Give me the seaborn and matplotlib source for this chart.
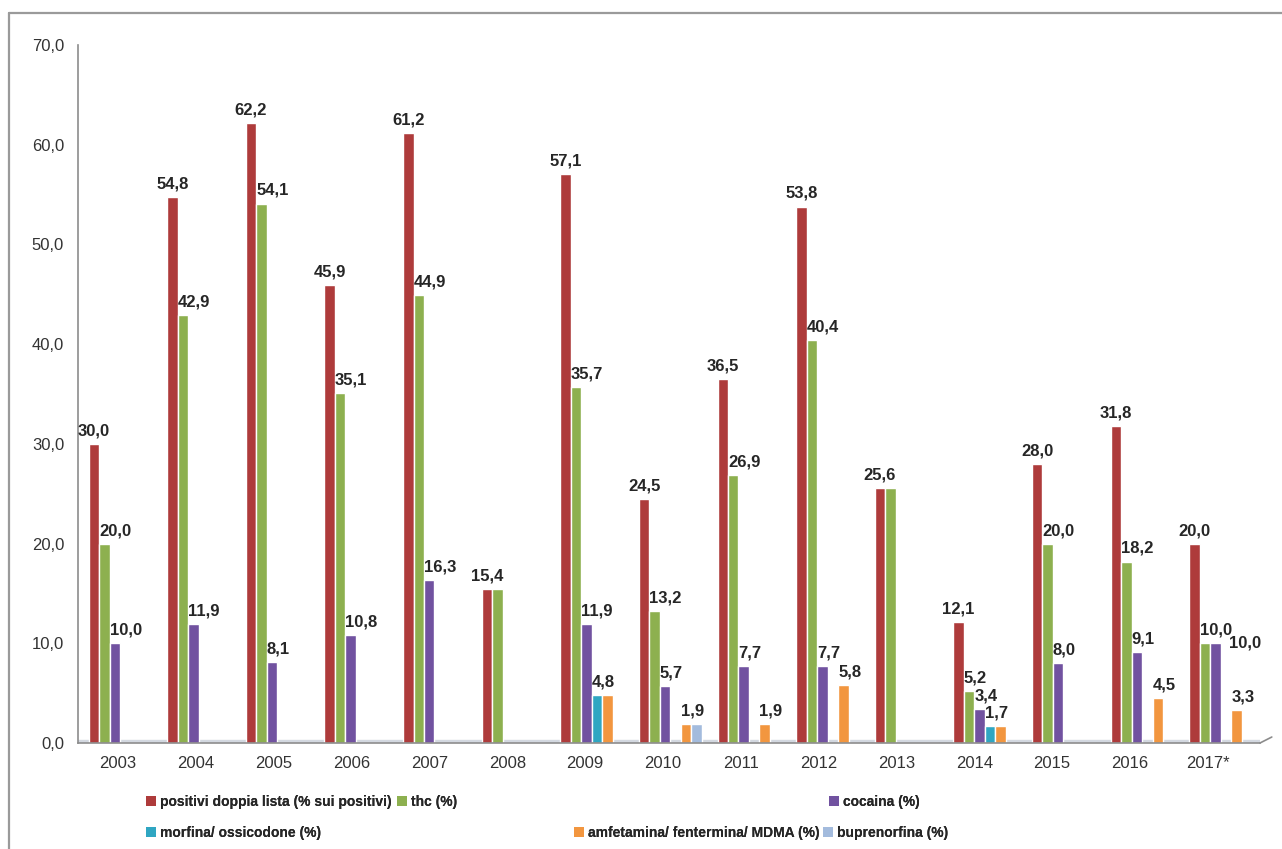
import pandas as pd
import matplotlib.pyplot as plt
import seaborn as sns
from matplotlib.patches import Patch
from matplotlib.lines import Line2D

# anni e serie
years = ['2003', '2004', '2005', '2006', '2007', '2008', '2009', '2010',
         '2011', '2012', '2013', '2014', '2015', '2016', '2017*']

series_names = ['positivi doppia lista (% sui positivi)', 'thc (%)', 'cocaina (%)',
                'morfina/ ossicodone (%)', 'amfetamina/ fentermina/ MDMA (%)',
                'buprenorfina (%)']

positivi = [30.0, 54.8, 62.2, 45.9, 61.2, 15.4, 57.1, 24.5, 36.5, 53.8, 25.6, 12.1, 28.0, 31.8, 20.0]
thc = [20.0, 42.9, 54.1, 35.1, 44.9, 15.4, 35.7, 13.2, 26.9, 40.4, 25.6, 5.2, 20.0, 18.2, 10.0]
cocaina = [10.0, 11.9, 8.1, 10.8, 16.3, 0.0, 11.9, 5.7, 7.7, 7.7, 0.0, 3.4, 8.0, 9.1, 10.0]
morfina = [0.0, 0.0, 0.0, 0.0, 0.0, 0.0, 4.8, 0.0, 0.0, 0.0, 0.0, 1.7, 0.0, 0.0, 0.0]
amfetamina = [0.0, 0.0, 0.0, 0.0, 0.0, 0.0, 4.8, 1.9, 1.9, 5.8, 0.0, 1.7, 0.0, 4.5, 3.3]
buprenorfina = [0.0, 0.0, 0.0, 0.0, 0.0, 0.0, 0.0, 1.9, 0.0, 0.0, 0.0, 0.0, 0.0, 0.0, 0.0]

colors = ['#AE3B3B', '#8DB04F', '#7152A0', '#2FA6C2', '#F2963F', '#A3BBDD']

# etichette non mostrate nel grafico originale (valori sovrapposti)
hidden_labels = [('2008', 1), ('2013', 1), ('2009', 4), ('2010', 5), ('2014', 4)]

rows = []
for name, vals in zip(series_names, [positivi, thc, cocaina, morfina, amfetamina, buprenorfina]):
    for y, v in zip(years, vals):
        rows.append({'anno': y, 'serie': name, 'valore': v})
df = pd.DataFrame(rows)

sns.set_style('white')
plt.rcParams['font.family'] = ['Liberation Sans', 'DejaVu Sans']

W, H = 1282, 849
fig = plt.figure(figsize=(W / 100, H / 100), dpi=100)
ax = fig.add_axes([78 / W, 1 - 743 / H, (1260 - 78) / W, (743 - 45) / H])

# pavimento grigio (effetto 3D di Excel)
ax.axhspan(0, 0.3, color='#d3d8e0', zorder=0)

sns.barplot(data=df, x='anno', y='valore', hue='serie', order=years,
            hue_order=series_names, palette=colors, width=0.8, gap=0,
            saturation=1, legend=False, ax=ax, zorder=2)

ax.set_xlim(-0.534, 14.5)
ax.set_ylim(0, 70)
ax.set_yticks(range(0, 71, 10))
ax.set_yticklabels([f'{v:.1f}'.replace('.', ',') for v in range(0, 71, 10)])
ax.set_xlabel('')
ax.set_ylabel('')

# nel grafico 3D le etichette dell'asse sono un po' piu' strette delle colonne
def axis_pos(i):
    return -0.025 + 0.99 * i

ax.set_xticks([axis_pos(i) for i in range(len(years))])
ax.set_xticklabels(years)
ax.set_xticks([axis_pos(i + 0.5) for i in range(-1, len(years))], minor=True)

for s in ['top', 'right']:
    ax.spines[s].set_visible(False)
for s in ['left', 'bottom']:
    ax.spines[s].set_color('#8c8c8c')
    ax.spines[s].set_linewidth(1.2)

# piccolo tratto obliquo a destra del pavimento
ax.plot([14.5, 14.65], [0, 0.6], color='#8c8c8c', lw=1.2, clip_on=False)

ax.tick_params(axis='x', which='major', length=0, labelsize=12, colors='#333333', pad=9)
ax.tick_params(axis='x', which='minor', length=4, color='#8c8c8c', direction='out')
ax.tick_params(axis='y', length=4, color='#8c8c8c', labelsize=12, labelcolor='#333333', pad=6)

# etichette dei valori
for si, cont in enumerate(ax.containers):
    for yi, bar in enumerate(cont):
        h = bar.get_height()
        if h <= 0 or (years[yi], si) in hidden_labels:
            continue
        txt = f'{h:.1f}'.replace('.', ',')
        x0 = bar.get_x()
        if si == 0:
            ax.annotate(txt, (x0 + bar.get_width() / 2, h), xytext=(0, 4),
                        textcoords='offset points', ha='center', va='bottom',
                        fontsize=12, fontweight='bold')
        elif years[yi] == '2017*' and si == 2:
            ax.annotate(txt, (x0 + bar.get_width(), h), xytext=(6, 0),
                        textcoords='offset points', ha='left', va='center',
                        fontsize=12, fontweight='bold')
        else:
            ax.annotate(txt, (x0, h), xytext=(0, 4),
                        textcoords='offset points', ha='left', va='bottom',
                        fontsize=12, fontweight='bold')

# legenda: una voce per posizione, come nell'originale
legend_pos = [(146, 802), (397, 802), (829, 802), (146, 833), (574, 833), (823, 833)]
for name, col, (px, py) in zip(series_names, colors, legend_pos):
    lg = fig.legend(handles=[Patch(facecolor=col, edgecolor='none')], labels=[name],
                    loc='center left', bbox_to_anchor=(px / W, 1 - py / H),
                    frameon=False, borderpad=0, borderaxespad=0,
                    handlelength=0.7, handleheight=0.7, handletextpad=0.3,
                    prop={'weight': 'bold', 'size': 10})
    fig.add_artist(lg)

# cornice grigia del grafico
fig.add_artist(Line2D([9 / W, 9 / W], [0, 1 - 13 / H], color='#9a9a9a', lw=1.6))
fig.add_artist(Line2D([9 / W, 1], [1 - 13 / H, 1 - 13 / H], color='#9a9a9a', lw=1.6))

fig.savefig('out.png', dpi=100)
